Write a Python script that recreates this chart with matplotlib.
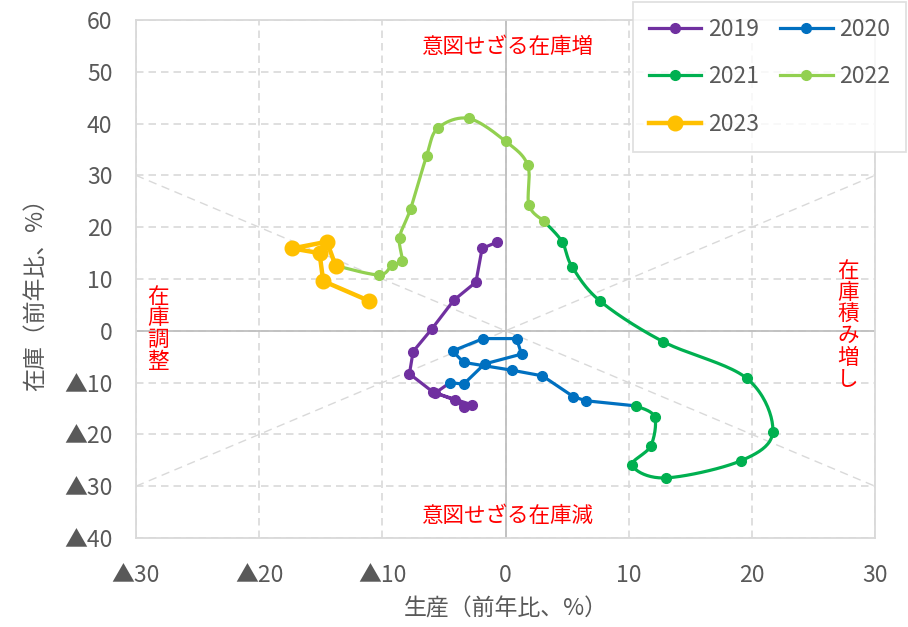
import numpy as np
import matplotlib
matplotlib.use("Agg")
import matplotlib.pyplot as plt
from matplotlib.lines import Line2D

plt.rcParams['font.family'] = ['Noto Sans CJK JP', 'DejaVu Sans']

# 生産（x）と在庫（y）の前年比、各年は翌年1月の点までつなぐ
x19 = [-0.7, -1.9, -2.4, -4.2, -6.0, -7.5, -7.8, -5.9, -4.1, -3.4, -2.7, -5.7]
y19 = [17.1, 15.9, 9.4, 5.9, 0.3, -4.0, -8.3, -11.8, -13.4, -14.7, -14.3, -12.0]
x20 = [-4.5, -3.4, -1.7, 1.3, 0.9, -1.8, -4.3, -3.4, 0.5, 3.0, 5.5, 6.5]
y20 = [-10.0, -10.3, -6.4, -4.5, -1.5, -1.5, -3.9, -6.1, -7.6, -8.7, -12.7, -13.5]
x21 = [10.6, 12.1, 11.8, 10.3, 13.0, 19.1, 21.7, 19.6, 12.8, 7.7, 5.4, 4.6]
y21 = [-14.5, -16.6, -22.2, -26.0, -28.4, -25.1, -19.5, -9.2, -2.1, 5.7, 12.4, 17.2]
x22 = [3.1, 1.9, 1.8, 0.0, -3.0, -5.5, -6.4, -7.7, -8.6, -8.4, -9.2, -10.3]
y22 = [21.2, 24.3, 32.0, 36.6, 41.0, 39.1, 33.8, 23.6, 18.0, 13.5, 12.7, 10.8]
x23 = [-13.8, -14.5, -17.3, -15.1, -14.8, -11.1]
y23 = [12.6, 17.2, 15.9, 15.0, 9.6, 5.8]

years = ['2019', '2020', '2021', '2022', '2023']
colors = ['#7030A0', '#0070C0', '#00B050', '#92D050', '#FFC000']
smooth_flag = [False, False, True, True, False]

xticks = [-30, -20, -10, 0, 10, 20, 30]
xticklabels = ['▲30', '▲20', '▲10', '0', '10', '20', '30']
yticks = [60, 50, 40, 30, 20, 10, 0, -10, -20, -30, -40]
yticklabels = ['60', '50', '40', '30', '20', '10', '0', '▲10', '▲20', '▲30', '▲40']
diag = [-30, 30]

TXT = '#595959'
RED = '#FF0000'
FS = 16.5


def catmull(xs, ys, n=24):
    pts = np.column_stack([xs, ys]).astype(float)
    p = np.vstack([pts[0], pts, pts[-1]])
    t = np.linspace(0, 1, n)[:, None]
    segs = []
    for i in range(1, len(p) - 2):
        p0, p1, p2, p3 = p[i - 1], p[i], p[i + 1], p[i + 2]
        seg = 0.5 * (2 * p1 + (-p0 + p2) * t + (2 * p0 - 5 * p1 + 4 * p2 - p3) * t ** 2
                     + (-p0 + 3 * p1 - 3 * p2 + p3) * t ** 3)
        segs.append(seg)
    c = np.vstack(segs)
    return c[:, 0], c[:, 1]


fig = plt.figure(figsize=(9.08, 6.27), dpi=100)
ax = fig.add_axes([136 / 908, 1 - 538 / 627, 739 / 908, 518 / 627])

ax.set_xlim(-30, 30)
ax.set_ylim(-40, 60)
ax.set_xticks(xticks)
ax.set_xticklabels(xticklabels)
ax.set_yticks(yticks)
ax.set_yticklabels(yticklabels)
ax.tick_params(length=0, labelsize=FS, labelcolor=TXT)
ax.tick_params(axis='x', pad=19)
ax.tick_params(axis='y', pad=17)
ax.grid(True, color='#D9D9D9', linestyle=(0, (4.5, 3)), linewidth=1.2)
ax.set_axisbelow(True)
for s in ax.spines.values():
    s.set_color('#D9D9D9')
    s.set_linewidth(1.3)
ax.axhline(0, color='#BFBFBF', lw=1.3, zorder=1)
ax.axvline(0, color='#BFBFBF', lw=1.3, zorder=1)

# 45度の補助線
ax.plot(diag, diag[::-1], color='#D9D9D9', lw=1.0, ls=(0, (6, 4)), zorder=1)
ax.plot(diag, diag, color='#D9D9D9', lw=1.0, ls=(0, (6, 4)), zorder=1)

xs_all = [x19, x20, x21, x22, x23]
ys_all = [y19, y20, y21, y22, y23]
handles = []
for i, yr in enumerate(years):
    xs = list(xs_all[i])
    ys = list(ys_all[i])
    if i + 1 < len(years):
        lx = xs + [xs_all[i + 1][0]]
        ly = ys + [ys_all[i + 1][0]]
    else:
        lx, ly = xs, ys
    big = yr == '2023'
    lw = 3.2 if big else 2.3
    ms = 10.5 if big else 7
    if smooth_flag[i]:
        cx, cy = catmull(lx, ly)
    else:
        cx, cy = lx, ly
    ax.plot(cx, cy, color=colors[i], lw=lw, zorder=3 + i, solid_capstyle='round')
    ax.plot(xs, ys, 'o', color=colors[i], ms=ms, zorder=3 + i)
    handles.append(Line2D([], [], color=colors[i], lw=lw, marker='o', ms=ms))

RFS = 15.5
ax.text(0.1, 54.8, '意図せざる在庫増', color=RED, fontsize=RFS, ha='center', va='center')
ax.text(0.1, -35.8, '意図せざる在庫減', color=RED, fontsize=RFS, ha='center', va='center')
ax.text(-28.2, 0.3, '\n'.join('在庫調整'), color=RED, fontsize=RFS, ha='center', va='center',
        linespacing=0.98)
ax.text(27.8, 1.1, '\n'.join('在庫積み増し'), color=RED, fontsize=RFS, ha='center', va='center',
        linespacing=0.98)

ax.set_xlabel('生産（前年比、%）', fontsize=FS, color=TXT, va='center')
ax.xaxis.set_label_coords(0.5, (538 - 609) / 518)
ax.set_ylabel('在庫（前年比、%）', fontsize=FS, color=TXT, va='center')
ax.yaxis.set_label_coords((35 - 136) / 739, 0.48)

order = [0, 2, 4, 1, 3]
leg = fig.legend([handles[k] for k in order], [years[k] for k in order],
                 loc='upper right', bbox_to_anchor=(906 / 908, 1 - 2 / 627), ncol=2,
                 fontsize=FS, frameon=True, fancybox=False, edgecolor='#D9D9D9',
                 handlelength=2.3, labelspacing=1.08, columnspacing=0.9, borderpad=0.68,
                 handletextpad=0.3, borderaxespad=0)
leg.get_frame().set_linewidth(1.3)
for t in leg.get_texts():
    t.set_color(TXT)

fig.savefig('out.png', dpi=100)
